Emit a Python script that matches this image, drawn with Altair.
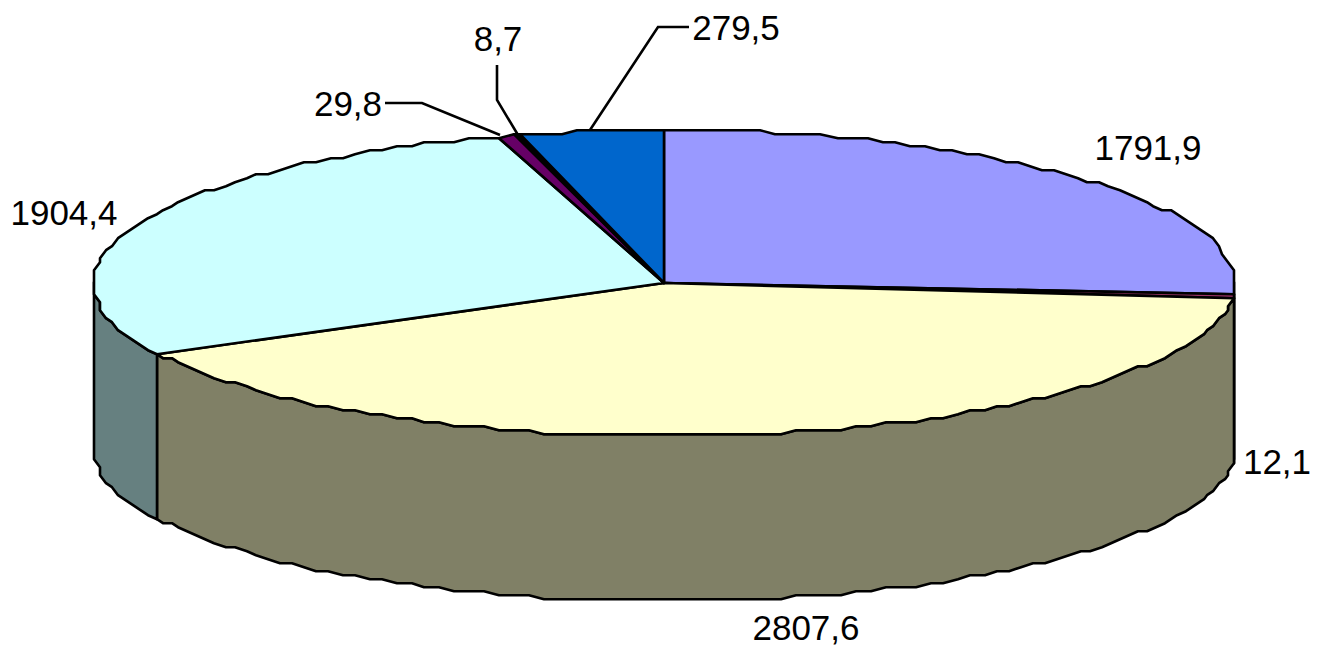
import numpy as np
import pandas as pd
import altair as alt

# Data
labels = ["1791,9", "12,1", "2807,6", "1904,4", "29,8", "8,7", "279,5"]
values = [1791.9, 12.1, 2807.6, 1904.4, 29.8, 8.7, 279.5]
top_colors = ["#9999FF", "#993366", "#FFFFCC", "#CCFFFF", "#660066", "#000000", "#0066CC"]
side_colors = ["#000000", "#000000", "#808066", "#668080", "#330033", "#000000", "#003366"]

# Layout of the tilted pie, in page pixels
CX, CY, RX, RY, DEPTH = 664.0, 283.0, 571.0, 153.0, 165.0
W, H = 1304, 640
GRID_X, GRID_Y, OFF_Y = 3.0, 4.0, 0.8
STEP = 0.028
FONT, FS, SW = "Liberation Sans", 35, 2.6
label_pos = [(1148, 149), (1277, 463), (806, 629), (64, 214), (348, 105), (498, 40), (736, 29)]
leaders = {
    4: [(385, 103), (422, 103), (500, 135)],
    5: [(497, 65), (497, 100), (518, 135)],
    6: [(689, 27), (658, 27), (590, 130)],
}

x_scale = alt.Scale(domain=[8, 8 + W], range=[0, W], nice=False, zero=False)
y_scale = alt.Scale(domain=[8, 8 + H], range=[0, H], nice=False, zero=False)
X = alt.X("x:Q", scale=x_scale, axis=None)
Y = alt.Y("y:Q", scale=y_scale, axis=None)


def ell(t):
    dx = RX * np.sin(t)
    dy = -RY * np.cos(t)
    return (CX + np.round(dx / GRID_X) * GRID_X,
            CY + np.round((dy + OFF_Y) / GRID_Y) * GRID_Y - OFF_Y)


def arc(a, b):
    n = max(2, int(np.ceil((b - a) / STEP)) + 1)
    return np.linspace(a, b, n)


def poly(xs, ys, color, width=SW):
    df = pd.DataFrame({"x": xs, "y": ys, "i": range(len(xs))})
    return alt.Chart(df).mark_line(
        interpolate="linear-closed", fill=color, stroke="black",
        strokeWidth=width, strokeJoin="round",
    ).encode(x=X, y=Y, order="i:Q")


def path(pts):
    df = pd.DataFrame({"x": [p[0] for p in pts], "y": [p[1] for p in pts], "i": range(len(pts))})
    return alt.Chart(df).mark_line(stroke="black", strokeWidth=SW).encode(x=X, y=Y, order="i:Q")


edges = np.concatenate([[0], np.cumsum(values)]) / np.sum(values) * 2 * np.pi
sides, tops = [], []
for k in range(len(values)):
    t0, t1 = edges[k], edges[k + 1]
    ex, ey = ell(arc(t0, t1))
    tops.append(poly(np.r_[CX, ex], np.r_[CY, ey], top_colors[k]))
    a, b = max(t0, np.pi / 2), min(t1, 3 * np.pi / 2)
    if b > a:
        sx, sy = ell(arc(a, b))
        sides.append(poly(np.r_[sx, sx[::-1]], np.r_[sy, sy[::-1] + DEPTH], side_colors[k]))

lines = [path(p) for p in leaders.values()]
text_df = pd.DataFrame({"label": labels, "x": [p[0] for p in label_pos], "y": [p[1] for p in label_pos]})
text = alt.Chart(text_df).mark_text(
    font=FONT, fontSize=FS, color="black", align="center", baseline="middle"
).encode(x=X, y=Y, text="label:N")

chart = alt.layer(*sides, *tops, *lines, text).properties(
    width=W, height=H, padding=0, background="white",
    autosize=alt.AutoSizeParams(type="none"),
).configure_view(stroke=None)

chart.save("out.html", embed_options={"renderer": "svg", "actions": False})
